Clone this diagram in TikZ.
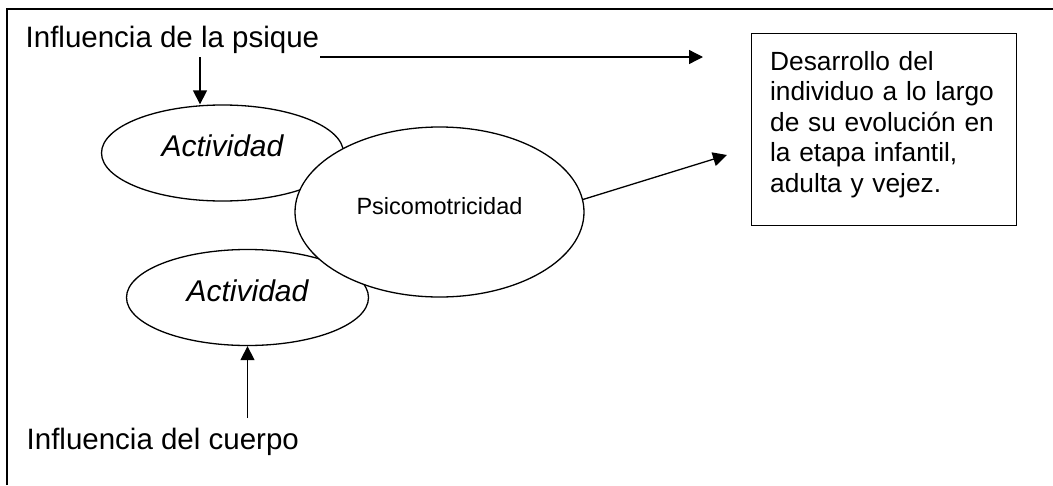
\documentclass[tikz,border=0pt]{standalone}
\usepackage{fontspec}
\setmainfont{Liberation Sans}
\usetikzlibrary{shapes.geometric,arrows.meta}

\begin{document}
\begin{tikzpicture}[
  x = 1pt, y = -1pt,
  line width = 1.3pt,
  flecha/.style = {-{Triangle[length=14pt,width=14pt]}},
  influencia/.style = {
    anchor = base west, inner sep = 0pt,
    font = \fontsize{29.5}{35}\selectfont},
  actividad/.style = {
    ellipse, draw, fill = white, inner sep = 0pt,
    minimum width = 242pt, minimum height = 96pt,
    text depth = 14pt,
    font = \fontsize{30}{36}\selectfont\itshape},
  central/.style = {
    ellipse, draw, fill = white, inner sep = 0pt,
    minimum width = 289pt, minimum height = 170pt,
    text depth = 12.8pt,
    font = \fontsize{23.5}{28}\selectfont},
  caja/.style = {
    draw, anchor = north west, align = left,
    text width = 228pt, inner xsep = 18.5pt, inner ysep = 17.5pt,
    text depth = 138pt,
    font = \fontsize{26.3}{30.5}\selectfont}
  ]
  \useasboundingbox (0,0) rectangle (1053,485);
  % marco abierto
  \draw (7,485) -- (7,9) -- (1053,9);

  \node [influencia] (psique) at (25,47.3) {Influencia de la psique};
  \node [influencia] (cuerpo) at (26,449) {Influencia del cuerpo};

  \node [actividad] (act1) at (222.5,153) {Actividad};
  \node [actividad] (act2) at (247.5,297.5) {Actividad};
  \node [central] (psico) at (439.5,212) {Psicomotricidad};

  \node [caja] (desarrollo) at (751,33)
    {Desarrollo del\\individuo a lo largo\\de su evolución en\\la etapa infantil,\\adulta y vejez.};

  \coordinate (p1) at (200,57);
  \coordinate (h1) at (320,57);
  \coordinate (h2) at (703,57);
  \coordinate (d1) at (727,155);
  \coordinate (c1) at (247.5,418);

  \draw [flecha] (p1) -- (p1 |- act1.north);
  \draw [flecha] (h1) -- (h2);
  \draw [flecha] (psico.5) -- (d1);
  \draw [flecha] (c1) -- (act2.south);
\end{tikzpicture}
\end{document}
